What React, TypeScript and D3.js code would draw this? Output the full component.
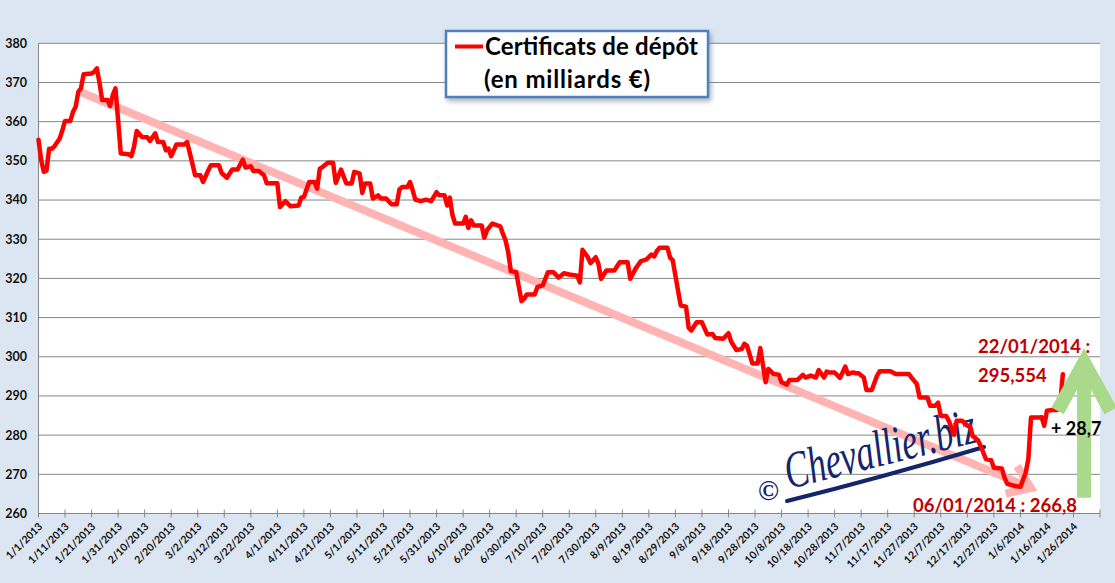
import React from 'react';
import * as d3 from 'd3';

// Certificats de dépôt, daily, from 1/1/2013 (day 0) to 22/01/2014 (day 386)
const startDate = new Date(2013, 0, 1);
const endDate = new Date(2014, 1, 5);

const days = [
  0, 1, 2, 3, 4, 5, 6, 8, 9, 10, 12, 13, 14, 15, 16, 17, 20, 21, 22, 23,
  24, 26, 27, 28, 29, 30, 31, 34, 35, 36, 37, 39, 41, 42, 44, 45, 47, 48, 49, 50,
  52, 55, 56, 58, 59, 61, 62, 64, 65, 68, 69, 71, 73, 75, 77, 78, 80, 81, 83, 85,
  86, 90, 91, 93, 95, 98, 99, 100, 102, 104, 105, 106, 107, 109, 111, 112, 114, 116, 118, 119,
  121, 122, 123, 125, 126, 128, 129, 131, 133, 135, 136, 137, 139, 140, 141, 142, 144, 146, 148, 150,
  151, 153, 154, 155, 156, 157, 160, 161, 162, 163, 164, 167, 168, 169, 171, 174, 175, 176, 177, 178,
  180, 182, 183, 184, 187, 188, 190, 192, 194, 196, 198, 200, 203, 204, 205, 207, 208, 210, 211, 212,
  214, 217, 219, 222, 223, 225, 227, 229, 231, 232, 233, 234, 237, 238, 239, 241, 242, 244, 245, 246,
  248, 250, 252, 254, 255, 258, 260, 261, 263, 265, 266, 267, 269, 271, 272, 274, 275, 277, 279, 280,
  282, 283, 286, 288, 289, 291, 293, 294, 296, 297, 298, 300, 302, 303, 304, 305, 307, 308, 309, 311,
  312, 314, 316, 317, 321, 323, 328, 329, 331, 332, 335, 336, 338, 339, 340, 342, 343, 345, 346, 348,
  350, 351, 352, 354, 355, 357, 359, 360, 363, 364, 365, 368, 370, 372, 373, 374, 377, 378, 379, 380,
  382, 384, 385, 386,
];

const values = [
  355.4, 350.2, 347.2, 347.5, 353.1, 353.1, 353.7, 355.7, 357.8, 360.2, 360.2, 362.5, 363.8, 367.6, 368.5, 372.1, 372.3, 372.7, 373.6, 369.9,
  365.5, 365.5, 364.0, 366.8, 368.5, 360.4, 351.9, 351.7, 351.2, 353.6, 357.6, 356.1, 356.0, 355.1, 357.0, 354.8, 354.8, 352.7, 353.1, 351.2,
  354.2, 354.2, 354.8, 349.3, 346.3, 346.3, 344.6, 347.6, 348.9, 348.9, 346.9, 345.7, 347.8, 347.8, 350.3, 348.3, 348.6, 347.4, 347.4, 346.3,
  344.3, 344.3, 338.2, 339.7, 338.4, 338.6, 340.6, 340.8, 344.6, 344.6, 342.9, 348.0, 348.4, 349.5, 349.5, 344.4, 347.8, 344.2, 344.2, 347.2,
  346.8, 341.8, 344.2, 344.2, 340.4, 341.2, 340.4, 340.4, 338.9, 338.9, 342.7, 343.3, 343.3, 344.6, 342.5, 340.1, 339.7, 340.1, 339.7, 342.0,
  341.2, 341.2, 338.6, 340.6, 336.1, 334.0, 334.0, 335.7, 332.9, 334.8, 333.5, 333.5, 330.4, 332.3, 334.0, 333.3, 331.4, 329.7, 326.7, 321.8,
  321.6, 314.2, 314.8, 315.9, 315.9, 317.8, 318.2, 321.6, 321.6, 320.2, 321.3, 321.0, 320.7, 319.0, 327.3, 325.4, 323.9, 325.4, 323.7, 319.9,
  322.0, 322.0, 324.1, 324.1, 319.9, 322.5, 324.4, 324.8, 326.1, 325.6, 327.0, 327.8, 327.8, 325.3, 324.6, 316.9, 313.1, 312.8, 307.4, 306.7,
  308.8, 308.8, 305.7, 305.8, 304.8, 304.6, 306.0, 303.9, 301.7, 302.0, 303.3, 302.8, 298.3, 298.3, 302.2, 293.5, 296.9, 295.6, 295.4, 293.5,
  292.9, 294.1, 294.1, 295.4, 294.7, 295.2, 294.7, 296.6, 294.7, 296.2, 296.0, 296.0, 294.6, 296.0, 297.5, 295.6, 296.0, 295.8, 295.8, 294.7,
  291.5, 291.5, 295.2, 296.3, 296.3, 295.6, 295.6, 294.7, 293.0, 289.6, 289.6, 287.5, 287.5, 288.3, 284.9, 284.9, 283.7, 280.1, 283.7, 283.7,
  282.4, 282.4, 279.8, 278.7, 277.3, 273.9, 273.6, 271.7, 271.5, 269.2, 267.6, 267.0, 266.8, 270.4, 273.9, 284.5, 284.5, 284.6, 282.4, 286.2,
  286.4, 286.4, 288.3, 295.554,
];

const yTicks = [260, 270, 280, 290, 300, 310, 320, 330, 340, 350, 360, 370, 380];
const xTickDays = d3.range(0, 401, 10);

const legendLines = ['Certificats de dépôt', '(en milliards €)'];
const lowLabel = '06/01/2014 : 266,8';
const highLabels = ['22/01/2014 :', '295,554'];
const gainLabel = '+ 28,7';

// trend arrow (day, value) ends and the green rebound arrow
const trendFrom = [16, 367.5];
const trendTo = [374, 266.5];
const upArrowDay = 394;
const upArrowValues = [264, 298.5, 286.2];

const font = "Lato, 'Open Sans', sans-serif";
const darkRed = '#c00000';

export default function App() {
  const W = 1115;
  const H = 583;
  const left = 38.5;
  const right = 1100;
  const top = 43.3;
  const bottom = 513.5;

  const x = d3.scaleTime().domain([startDate, endDate]).range([left, right]);
  const y = d3.scaleLinear().domain([260, 380]).range([bottom, top]);
  const dates = days.map((d) => d3.timeDay.offset(startDate, d));
  const fmt = d3.timeFormat('%-m/%-d/%Y');

  const line = d3
    .line<number>()
    .x((_, i) => x(dates[i]))
    .y((d) => y(d));

  // trend arrow geometry
  const tx0 = x(d3.timeDay.offset(startDate, trendFrom[0]));
  const ty0 = y(trendFrom[1]);
  const tx1 = x(d3.timeDay.offset(startDate, trendTo[0]));
  const ty1 = y(trendTo[1]);
  const ang = Math.atan2(ty1 - ty0, tx1 - tx0) + Math.PI;
  const arm = 26;
  const a1 = ang + (35 * Math.PI) / 180;
  const a2 = ang - (35 * Math.PI) / 180;
  const trendHead = `M${tx1 + arm * Math.cos(a1)},${ty1 + arm * Math.sin(a1)}L${tx1},${ty1}L${tx1 + arm * Math.cos(a2)},${ty1 + arm * Math.sin(a2)}`;

  // green arrow
  const gx = x(d3.timeDay.offset(startDate, upArrowDay));
  const gxl = x(d3.timeDay.offset(startDate, upArrowDay - 10));
  const gxr = x(d3.timeDay.offset(startDate, upArrowDay + 10));

  return (
    <svg
      width={W}
      height={H}
      style={{ position: 'absolute', left: 0, top: 0, display: 'block' }}
    >
      <defs>
        <filter id="shadow" x="-10%" y="-20%" width="120%" height="150%">
          <feDropShadow dx="2" dy="3" stdDeviation="2.5" floodColor="#6b7f99" floodOpacity="0.6" />
        </filter>
      </defs>
      <rect x={0} y={0} width={W} height={H} fill="#dce6f2" />
      <rect x={left} y={top} width={right - left} height={bottom - top} fill="#ffffff" />

      {/* gridlines */}
      {yTicks.map((t) => (
        <line key={t} x1={left} x2={right} y1={y(t)} y2={y(t)} stroke="#868686" strokeWidth={1} />
      ))}
      <line x1={left} x2={left} y1={top} y2={bottom} stroke="#868686" strokeWidth={1} />

      {/* y labels */}
      {yTicks.map((t) => (
        <text
          key={t}
          x={27}
          y={y(t)}
          dy="0.35em"
          textAnchor="end"
          fontFamily={font}
          fontWeight="bold"
          fontSize={12.5}
          fill="#111"
        >
          {t}
        </text>
      ))}

      {/* x ticks and labels */}
      {xTickDays.map((d) => {
        const xx = x(d3.timeDay.offset(startDate, d));
        return (
          <g key={d}>
            <line x1={xx} x2={xx} y1={bottom - 4} y2={bottom + 4} stroke="#868686" strokeWidth={1} />
            {d < 400 && (
              <text
                transform={`translate(${xx + 2},${bottom + 11}) rotate(-45)`}
                dy="0.35em"
                textAnchor="end"
                fontFamily={font}
                fontWeight="bold"
                fontSize={10.5}
                fill="#111"
              >
                {fmt(d3.timeDay.offset(startDate, d))}
              </text>
            )}
          </g>
        );
      })}

      {/* trend arrow */}
      <line x1={tx0} y1={ty0} x2={tx1} y2={ty1} stroke="#ffb3b3" strokeWidth={8} />
      <path d={trendHead} fill="none" stroke="#ffb3b3" strokeWidth={8} strokeLinejoin="miter" />

      {/* watermark */}
      <g fill="#14256a">
        <text x={758} y={500} fontFamily="'Liberation Serif', serif" fontWeight="bold" fontSize={28}>
          ©
        </text>
        <text
          transform="translate(789,489) rotate(-14)"
          fontFamily="'Liberation Serif', serif"
          fontStyle="italic"
          fontSize={52}
          textLength={196}
          lengthAdjust="spacingAndGlyphs"
        >
          Chevallier.biz
        </text>
        <path d="M787,501 Q880,478 984,447" fill="none" stroke="#14256a" strokeWidth={4} strokeLinecap="round" />
      </g>

      {/* series */}
      <path
        d={line(values) || ''}
        fill="none"
        stroke="#ff0000"
        strokeWidth={4.5}
        strokeLinejoin="round"
        strokeLinecap="round"
      />

      {/* green rebound arrow */}
      <g stroke="#a9d98a" strokeWidth={14} fill="none">
        <line x1={gx} x2={gx} y1={y(upArrowValues[0])} y2={y(upArrowValues[1]) + 8} />
        <path
          d={`M${gxl},${y(upArrowValues[2])}L${gx},${y(upArrowValues[1])}L${gxr},${y(upArrowValues[2])}`}
          strokeLinejoin="miter"
        />
      </g>

      {/* annotations */}
      <g fontFamily={font} fontWeight="bold" fontSize={18.5} fill={darkRed}>
        <text x={978} y={353}>{highLabels[0]}</text>
        <text x={978} y={382}>{highLabels[1]}</text>
        <text x={913} y={512}>{lowLabel}</text>
      </g>
      <text x={1051} y={435} fontFamily={font} fontWeight="bold" fontSize={18} fill="#000">
        {gainLabel}
      </text>

      {/* legend */}
      <rect x={446} y={31} width={262} height={66} fill="#fff" stroke="#4f81bd" strokeWidth={2.5} filter="url(#shadow)" />
      <line x1={455} x2={483} y1={46.5} y2={46.5} stroke="#ff0000" strokeWidth={4} />
      <text x={485} y={55} fontFamily={font} fontWeight="bold" fontSize={24} fill="#000" textLength={213}>
        {legendLines[0]}
      </text>
      <text x={484} y={88} fontFamily={font} fontWeight="bold" fontSize={24} fill="#000" textLength={166}>
        {legendLines[1]}
      </text>
    </svg>
  );
}
